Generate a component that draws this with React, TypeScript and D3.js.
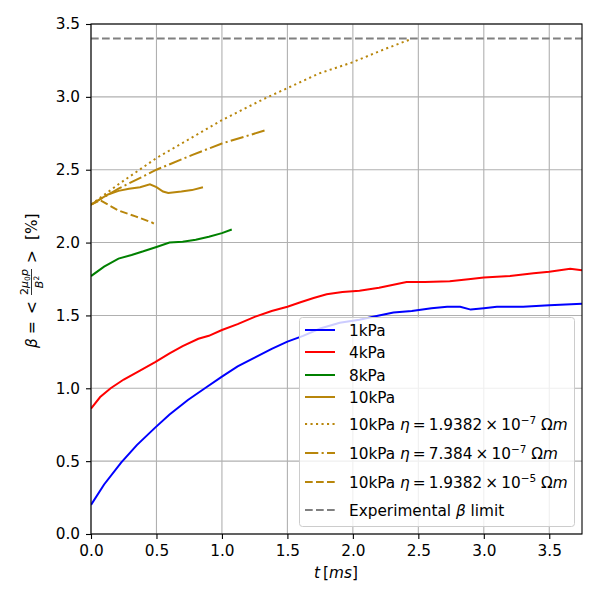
import React, { useRef, useEffect } from "react";
import * as d3 from "d3";

// time axis [ms] and beta [%]
const t1 = [0, 0.1, 0.23, 0.35, 0.49, 0.6, 0.74, 0.87, 1.0, 1.12, 1.25, 1.38, 1.5, 1.62, 1.75, 1.9, 2.05, 2.2, 2.31, 2.45, 2.6, 2.72, 2.82, 2.9, 3.0, 3.1, 3.3, 3.5, 3.75];
const b1 = [0.2, 0.34, 0.49, 0.61, 0.73, 0.82, 0.92, 1.0, 1.08, 1.15, 1.21, 1.27, 1.32, 1.36, 1.41, 1.45, 1.47, 1.5, 1.52, 1.53, 1.55, 1.56, 1.56, 1.54, 1.55, 1.56, 1.56, 1.57, 1.58];

const t4 = [0, 0.07, 0.15, 0.25, 0.35, 0.49, 0.6, 0.7, 0.82, 0.9, 1.0, 1.12, 1.25, 1.38, 1.5, 1.6, 1.7, 1.8, 1.92, 2.05, 2.2, 2.41, 2.55, 2.74, 2.9, 3.0, 3.2, 3.38, 3.5, 3.66, 3.75];
const b4 = [0.86, 0.94, 1.0, 1.06, 1.11, 1.18, 1.24, 1.29, 1.34, 1.36, 1.4, 1.44, 1.49, 1.53, 1.56, 1.59, 1.62, 1.645, 1.66, 1.67, 1.69, 1.73, 1.73, 1.735, 1.75, 1.76, 1.77, 1.79, 1.8, 1.82, 1.81];

const t8 = [0, 0.1, 0.21, 0.31, 0.4, 0.5, 0.6, 0.7, 0.8, 0.9, 1.0, 1.075];
const b8 = [1.77, 1.835, 1.89, 1.915, 1.94, 1.97, 2.0, 2.005, 2.02, 2.04, 2.065, 2.09];

const t10 = [0, 0.13, 0.21, 0.29, 0.375, 0.45, 0.5, 0.55, 0.59, 0.69, 0.77, 0.855];
const b10 = [2.26, 2.33, 2.355, 2.37, 2.38, 2.4, 2.38, 2.35, 2.34, 2.35, 2.36, 2.38];

const tEta7 = [0, 0.21, 0.5, 0.77, 1.0, 1.33, 1.5, 1.74, 1.99, 2.25, 2.44];
const bEta7 = [2.26, 2.4, 2.58, 2.72, 2.84, 2.99, 3.06, 3.16, 3.235, 3.33, 3.395];

const tEta7b = [0, 0.21, 0.5, 0.77, 1.0, 1.33];
const bEta7b = [2.26, 2.37, 2.5, 2.6, 2.68, 2.77];

const tEta5 = [0, 0.07, 0.21, 0.34, 0.46, 0.48];
const bEta5 = [2.26, 2.29, 2.22, 2.18, 2.14, 2.13];

const betaLimit = 3.4;

const xTicks = [0, 0.5, 1.0, 1.5, 2.0, 2.5, 3.0, 3.5];
const yTicks = [0, 0.5, 1.0, 1.5, 2.0, 2.5, 3.0, 3.5];

const gold = "#b8860b";
const dotted = "2.1,3.4";
const dashed = "7.7,3.3";
const dashdot = "13.3,3.3,2.1,3.3";
const series = [
  { t: t1, b: b1, color: "blue", dash: "", label: "1kPa" },
  { t: t4, b: b4, color: "red", dash: "", label: "4kPa" },
  { t: t8, b: b8, color: "green", dash: "", label: "8kPa" },
  { t: t10, b: b10, color: gold, dash: "", label: "10kPa" },
  { t: tEta7, b: bEta7, color: gold, dash: dotted, label: "1.9382|-7" },
  { t: tEta7b, b: bEta7b, color: gold, dash: dashdot, label: "7.384|-7" },
  { t: tEta5, b: bEta5, color: gold, dash: dashed, label: "1.9382|-5" },
];

const App: React.FC = () => {
  const svgRef = useRef<SVGSVGElement>(null);

  useEffect(() => {
    const svg = d3.select(svgRef.current);
    svg.selectAll("*").remove();
    const left = 91, right = 582, top = 24, bottom = 534;
    const font = "DejaVu Sans, sans-serif";
    const fs = 15.3;

    const x = d3.scaleLinear().domain([0, 3.75]).range([left, right]);
    const y = d3.scaleLinear().domain([0, 3.5]).range([bottom, top]);

    svg.append("rect").attr("width", 600).attr("height", 600).attr("fill", "white");

    // grid
    const grid = svg.append("g").attr("stroke", "#b0b0b0").attr("stroke-width", 1.1);
    xTicks.forEach((v) => grid.append("line").attr("x1", x(v)).attr("x2", x(v)).attr("y1", top).attr("y2", bottom));
    yTicks.forEach((v) => grid.append("line").attr("x1", left).attr("x2", right).attr("y1", y(v)).attr("y2", y(v)));

    const clip = svg.append("clipPath").attr("id", "plotclip");
    clip.append("rect").attr("x", left).attr("y", top).attr("width", right - left).attr("height", bottom - top);

    const plot = svg.append("g").attr("clip-path", "url(#plotclip)");
    const line = d3.line<[number, number]>().x((d) => x(d[0])).y((d) => y(d[1]));

    series.forEach((s) => {
      const pts = s.t.map((tv, i) => [tv, s.b[i]] as [number, number]);
      plot.append("path")
        .attr("d", line(pts))
        .attr("fill", "none")
        .attr("stroke", s.color)
        .attr("stroke-width", 2)
        .attr("stroke-dasharray", s.dash || null);
    });

    plot.append("path")
      .attr("d", line([[0, betaLimit], [3.75, betaLimit]]))
      .attr("fill", "none")
      .attr("stroke", "gray")
      .attr("stroke-width", 2)
      .attr("stroke-dasharray", dashed);

    // axes
    const xAxis = svg.append("g")
      .attr("transform", `translate(0,${bottom})`)
      .call(d3.axisBottom(x).tickValues(xTicks).tickFormat(d3.format(".1f")).tickSizeOuter(0).tickSize(5).tickPadding(6));
    const yAxis = svg.append("g")
      .attr("transform", `translate(${left},0)`)
      .call(d3.axisLeft(y).tickValues(yTicks).tickFormat(d3.format(".1f")).tickSizeOuter(0).tickSize(5).tickPadding(6));
    [xAxis, yAxis].forEach((a) => {
      a.select(".domain").remove();
      a.selectAll("text").attr("font-family", font).attr("font-size", fs).attr("fill", "black");
      a.selectAll("line").attr("stroke", "black").attr("stroke-width", 1.1);
    });

    svg.append("rect")
      .attr("x", left).attr("y", top).attr("width", right - left).attr("height", bottom - top)
      .attr("fill", "none").attr("stroke", "black").attr("stroke-width", 1.1);

    // x label
    const xl = svg.append("text").attr("x", 336).attr("y", 578).attr("text-anchor", "middle")
      .attr("font-family", font).attr("font-size", fs);
    xl.append("tspan").attr("font-style", "italic").text("t");
    xl.append("tspan").text("\u2009[");
    xl.append("tspan").attr("font-style", "italic").text("ms");
    xl.append("tspan").text("]");

    // y label, rotated
    const yl = svg.append("g").attr("transform", "translate(37,280) rotate(-90)")
      .attr("font-family", font).attr("font-size", fs);
    yl.append("text").attr("x", -68).attr("y", 0).attr("font-style", "italic").text("\u03b2");
    yl.append("text").attr("x", -54).attr("y", 0).text("=");
    yl.append("text").attr("x", -34).attr("y", 0).text("<");
    const num = yl.append("text").attr("x", -2).attr("y", -9).attr("text-anchor", "middle").attr("font-size", 11);
    num.append("tspan").text("2");
    num.append("tspan").attr("font-style", "italic").text("\u03bc");
    num.append("tspan").attr("font-size", 7.5).attr("dy", 2).text("0");
    num.append("tspan").attr("font-style", "italic").attr("dy", -2).text("p");
    yl.append("line").attr("x1", -15).attr("x2", 11).attr("y1", -5.5).attr("y2", -5.5).attr("stroke", "black").attr("stroke-width", 0.8);
    const den = yl.append("text").attr("x", -2).attr("y", 6).attr("text-anchor", "middle").attr("font-size", 11);
    den.append("tspan").attr("font-style", "italic").text("B");
    den.append("tspan").attr("font-size", 7.5).attr("dy", -4).text("2");
    yl.append("text").attr("x", 17).attr("y", 0).text(">");
    yl.append("text").attr("x", 40).attr("y", 0).text("[%]");

    // legend
    const lg = svg.append("g").attr("font-family", font).attr("font-size", fs);
    lg.append("rect").attr("x", 299.5).attr("y", 317.5).attr("width", 275).attr("height", 209).attr("rx", 3)
      .attr("fill", "white").attr("fill-opacity", 0.8).attr("stroke", "#cccccc").attr("stroke-width", 1);
    const rowsY = [330, 352, 375, 397, 424, 453, 482, 510];
    const entries = [
      ...series.map((s) => ({ color: s.color, dash: s.dash, label: s.label })),
      { color: "gray", dash: dashed, label: "limit" },
    ];
    entries.forEach((e, i) => {
      const yy = rowsY[i];
      lg.append("line").attr("x1", 305).attr("x2", 335).attr("y1", yy).attr("y2", yy)
        .attr("stroke", e.color).attr("stroke-width", 2).attr("stroke-dasharray", e.dash || null);
      const tx = lg.append("text").attr("x", 349).attr("y", yy + 5.5);
      if (e.label === "limit") {
        tx.append("tspan").text("Experimental ");
        tx.append("tspan").attr("font-style", "italic").text("\u03b2");
        tx.append("tspan").text(" limit");
      } else if (e.label.includes("|")) {
        const [mant, exp] = e.label.split("|");
        tx.append("tspan").text("10kPa ");
        tx.append("tspan").attr("font-style", "italic").text("\u03b7");
        tx.append("tspan").text(`\u2009=\u2009${mant}\u2009\u00d7\u200910`);
        tx.append("tspan").attr("font-size", 10.5).attr("dy", -6).text(`\u2212${exp.slice(1)}`);
        tx.append("tspan").attr("dy", 6).text(" \u03a9");
        tx.append("tspan").attr("font-style", "italic").text("m");
      } else {
        tx.text(e.label);
      }
    });
  }, []);

  return <svg ref={svgRef} width={600} height={600} style={{ position: "absolute", left: 0, top: 0 }}></svg>;
};

export default App;
